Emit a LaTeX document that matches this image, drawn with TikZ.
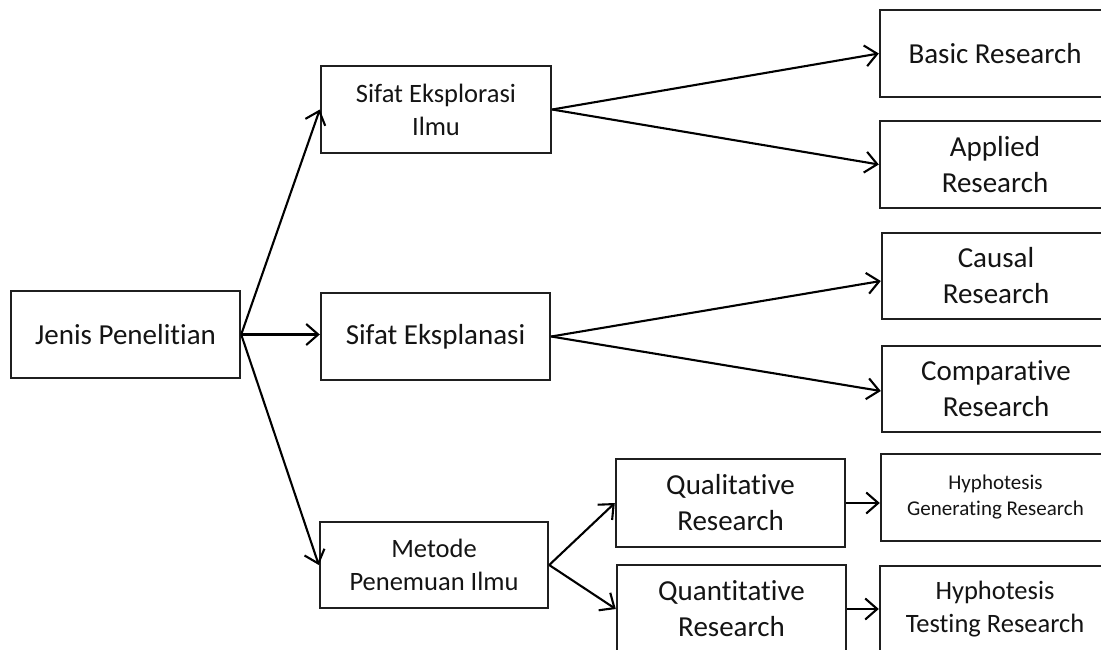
\documentclass[tikz,border=0pt]{standalone}
\usepackage{fontspec}
\setmainfont{Carlito}[Ligatures=NoCommon]
\usetikzlibrary{arrows.meta}

\begin{document}
\begin{tikzpicture}[x=1pt,y=-1pt,
  box/.style={draw=black!88, line width=2.4pt, fill=white, align=center,
    inner sep=2pt, text=black!92},
  big/.style={font=\fontsize{29}{36}\selectfont},
  mid/.style={font=\fontsize{26.5}{33}\selectfont},
  small/.style={font=\fontsize{21}{26}\selectfont},
  arr/.style={draw=black, line width=2.1pt,
    -{Straight Barb[length=12pt,width=21pt,line width=2.1pt]}}]

\clip (0,0) rectangle (1101,649);
\fill[white] (0,0) rectangle (1101,649);

% root and second level
\node[box,big,minimum width=229pt,minimum height=87pt] (jenis) at (125.5,334.5) {Jenis Penelitian};
\node[box,mid,minimum width=230pt,minimum height=87pt] (explo) at (436,109.5) {Sifat Eksplorasi\\Ilmu};
\node[box,big,minimum width=229pt,minimum height=87pt] (expla) at (435.5,336.5) {Sifat Eksplanasi};
\node[box,mid,minimum width=228pt,minimum height=86pt] (metode) at (434,565) {Metode\\Penemuan Ilmu};

% third level (right column runs past the edge)
\node[box,big,minimum width=230pt,minimum height=87pt] (basic) at (995,53.5) {Basic Research};
\node[box,big,minimum width=230pt,minimum height=87pt] (applied) at (995,164.5) {Applied\\Research};
\node[box,big,minimum width=228pt,minimum height=86pt] (causal) at (996,276) {Causal\\Research};
\node[box,big,minimum width=228pt,minimum height=86pt] (comp) at (996,389) {Comparative\\Research};

% research methods
\node[box,big,minimum width=229pt,minimum height=88pt] (qual) at (730.5,503) {Qualitative\\Research};
\node[box,big,minimum width=229pt,minimum height=88pt] (quant) at (731.5,609) {Quantitative\\Research};
\node[box,small,minimum width=229pt,minimum height=87pt] (hgen) at (995.5,497.5) {Hyphotesis\\Generating Research};
\node[box,mid,minimum width=230pt,minimum height=86pt] (htest) at (995,609) {Hyphotesis\\Testing Research};

% connectors
\draw[arr] (jenis.east) -- (explo.west);
\draw[arr] (jenis.east) -- (jenis.east -| expla.west);
\draw[arr] (jenis.east) -- (metode.west);

\draw[arr] (explo.east) -- (basic.west);
\draw[arr] (explo.east) -- (applied.west);

\draw[arr] (expla.east) -- ([yshift=-5pt]causal.west);
\draw[arr] (expla.east) -- ([yshift=-2pt]comp.west);

\draw[arr] (metode.east) -- (qual.west);
\draw[arr] (metode.east) -- (quant.west);

\draw[arr] (qual.east) -- (qual.east -| hgen.west);
\draw[arr] (quant.east) -- (quant.east -| htest.west);
\end{tikzpicture}
\end{document}
